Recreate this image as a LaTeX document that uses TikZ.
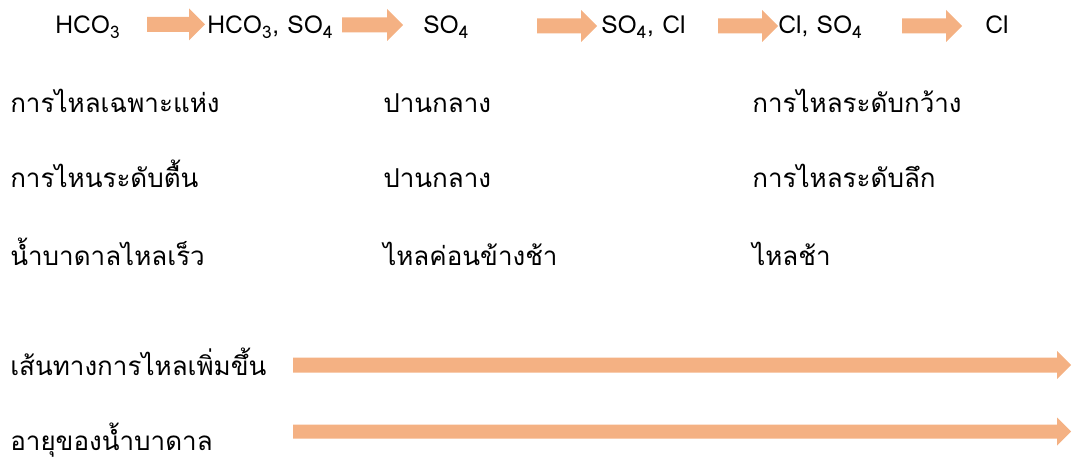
\documentclass[tikz,border=0pt]{standalone}
\usepackage{fontspec}
\setmainfont[Script=Thai]{Loma}
\newfontfamily\thai[Script=Thai]{Loma}
\definecolor{peach}{HTML}{F4B183}
\newcommand{\blockarr}[6]{% x1, x2, y, body half, head half, head length
  \fill[peach] (#1,#3-#4) -- (#2-#6,#3-#4) -- (#2-#6,#3-#5) -- (#2,#3) -- (#2-#6,#3+#5) -- (#2-#6,#3+#4) -- (#1,#3+#4) -- cycle;}
\newcommand{\sub}[1]{\textsubscript{#1}}
\begin{document}
\begin{tikzpicture}[x=0.75pt,y=-0.75pt,
  lbl/.style={anchor=base west,inner sep=0pt,font=\thai\fontsize{19.5pt}{22pt}\selectfont},
  ion/.style={anchor=base west,inner sep=0pt,font=\thai\fontsize{18.5pt}{22pt}\selectfont}]
\useasboundingbox (0,0) rectangle (1073,463);
% top row
\node[ion] (i1) at (55,34) {HCO\sub{3}};
\node[ion] (i2) at (207,34) {HCO\sub{3}, SO\sub{4}};
\node[ion] (i3) at (423,34) {SO\sub{4}};
\node[ion] (i4) at (601,34) {SO\sub{4}, Cl};
\node[ion] (i5) at (778,34) {Cl, SO\sub{4}};
\node[ion] (i6) at (985,34) {Cl};
\blockarr{147}{205}{24.5}{7.5}{16}{16}
\blockarr{342}{403}{25}{7.5}{16}{16}
\blockarr{537}{597}{26}{7.5}{16}{16}
\blockarr{718}{778}{26}{7.5}{16}{16}
\blockarr{902}{962}{26}{7.5}{16}{16}
% rows
\node[lbl] (a1) at (10,113) {การไหลเฉพาะแห่ง};
\node[lbl] (b1) at (383,113) {ปานกลาง};
\node[lbl] (c1) at (752,113) {การไหลระดับกว้าง};
\node[lbl] (a2) at (10,188) {การไหนระดับตื้น};
\node[lbl] (b2) at (383,188) {ปานกลาง};
\node[lbl] (c2) at (752,188) {การไหลระดับลึก};
\node[lbl] (a3) at (10,265) {น้ำบาดาลไหลเร็ว};
\node[lbl] (b3) at (383,265) {ไหลค่อนข้างช้า};
\node[lbl] (c3) at (752,265) {ไหลช้า};
\node[lbl] (d1) at (10,375) {เส้นทางการไหลเพิ่มขึ้น};
\node[lbl] (d2) at (10,450) {อายุของน้ำบาดาล};
\blockarr{293}{1071}{365}{7.5}{14}{14}
\blockarr{293}{1071}{431.5}{7}{14}{14}
\end{tikzpicture}
\end{document}
